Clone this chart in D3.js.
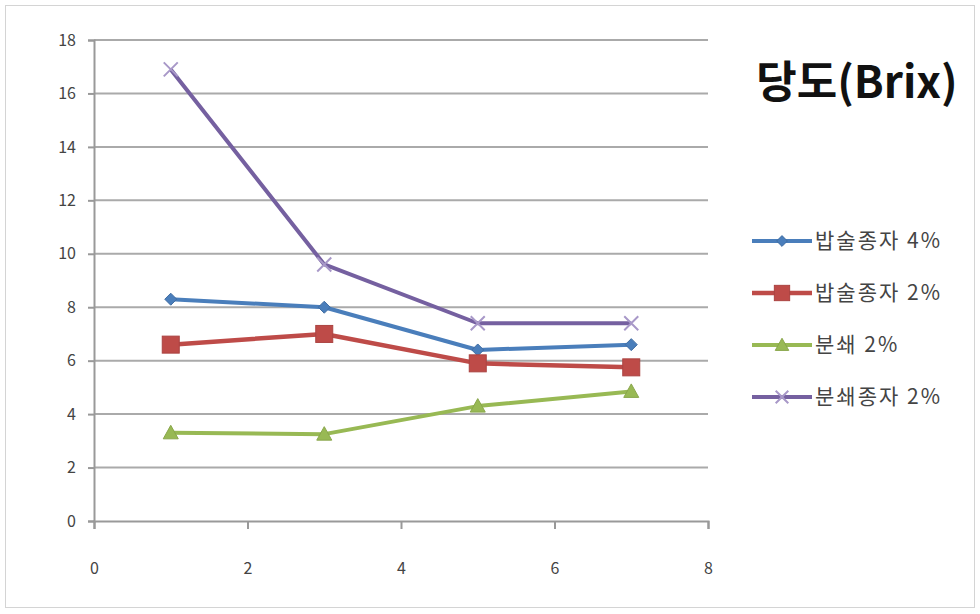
<!DOCTYPE html>
<html>
<head>
<meta charset="utf-8">
<script src="https://cdn.jsdelivr.net/npm/d3@7"></script>
<style>
  html, body { margin: 0; padding: 0; background: #fff; }
  svg { display: block; }
</style>
</head>
<body>
<svg id="chart" width="980" height="614"></svg>
<script>
// Sampling days and Brix readings for each treatment
const days = [1, 3, 5, 7];
const seriesNames = ["밥술종자 4%", "밥술종자 2%", "분쇄 2%", "분쇄종자 2%"];
const brixRice4 = [8.3, 8.0, 6.4, 6.6];
const brixRice2 = [6.6, 7.0, 5.9, 5.75];
const brixGround2 = [3.3, 3.25, 4.3, 4.85];
const brixGroundSeed2 = [16.9, 9.6, 7.4, 7.4];
const xTicks = [0, 2, 4, 6, 8];
const yTicks = [0, 2, 4, 6, 8, 10, 12, 14, 16, 18];
const chartTitle = "당도(Brix)";

const series = [
  { name: seriesNames[0], values: brixRice4, color: "#4a7ebb", marker: "diamond", width: 4 },
  { name: seriesNames[1], values: brixRice2, color: "#be4b48", marker: "square", width: 4.5 },
  { name: seriesNames[2], values: brixGround2, color: "#98b954", marker: "triangle", width: 4 },
  { name: seriesNames[3], values: brixGroundSeed2, color: "#7560a0", marker: "x", width: 4 }
];

const svg = d3.select("#chart");
const font = "'Noto Sans CJK KR', 'Noto Sans', sans-serif";

// outer frame
svg.append("rect")
  .attr("x", 5.5).attr("y", 5.5).attr("width", 969).attr("height", 602)
  .attr("fill", "#fff").attr("stroke", "#d4d4d4").attr("stroke-width", 1);

const x = d3.scaleLinear().domain([0, 8]).range([94, 708]);
const y = d3.scaleLinear().domain([0, 18]).range([521, 40]);

// horizontal gridlines
svg.append("g")
  .selectAll("line")
  .data(yTicks.filter(t => t > 0))
  .join("line")
  .attr("x1", x(0)).attr("x2", x(8))
  .attr("y1", d => y(d)).attr("y2", d => y(d))
  .attr("stroke", "#aaaaaa").attr("stroke-width", 2);

// axes
const yAxis = svg.append("g")
  .attr("transform", `translate(${x(0)},0)`)
  .call(d3.axisLeft(y).tickValues(yTicks).tickSize(6).tickPadding(12).tickFormat(d3.format("d")));
const xAxis = svg.append("g")
  .attr("transform", `translate(0,${y(0)})`)
  .call(d3.axisBottom(x).tickValues(xTicks).tickSize(8).tickPadding(34).tickFormat(d3.format("d")));

[yAxis, xAxis].forEach(g => {
  g.select(".domain").attr("stroke", "#999").attr("stroke-width", 2);
  g.selectAll(".tick line").attr("stroke", "#999").attr("stroke-width", 2);
  g.selectAll(".tick text")
    .attr("fill", "#444")
    .style("font-family", font)
    .style("font-size", "16px");
});

// marker shapes
function drawMarker(g, type, color, cx, cy, scale) {
  const s = scale || 1;
  if (type === "diamond") {
    g.append("path")
      .attr("d", `M${cx},${cy - 6 * s}L${cx + 6 * s},${cy}L${cx},${cy + 6 * s}L${cx - 6 * s},${cy}Z`)
      .attr("fill", color).attr("stroke", d3.color(color).darker(0.4)).attr("stroke-width", 1);
  } else if (type === "square") {
    const h = 8.5 * s;
    g.append("rect")
      .attr("x", cx - h).attr("y", cy - h).attr("width", 2 * h).attr("height", 2 * h)
      .attr("fill", color).attr("stroke", d3.color(color).darker(0.3)).attr("stroke-width", 1);
  } else if (type === "triangle") {
    const h = 7.5 * s;
    g.append("path")
      .attr("d", `M${cx},${cy - h}L${cx + h},${cy + h * 0.8}L${cx - h},${cy + h * 0.8}Z`)
      .attr("fill", color).attr("stroke", d3.color(color).darker(0.3)).attr("stroke-width", 1);
  } else if (type === "x") {
    const h = 7 * s;
    g.append("path")
      .attr("d", `M${cx - h},${cy - h}L${cx + h},${cy + h}M${cx - h},${cy + h}L${cx + h},${cy - h}`)
      .attr("stroke", "#a898c8").attr("stroke-width", 2).attr("fill", "none");
  }
}

const line = d3.line()
  .x((d, i) => x(days[i]))
  .y(d => y(d));

// series lines and markers
series.forEach(s => {
  const g = svg.append("g");
  g.append("path")
    .attr("d", line(s.values))
    .attr("fill", "none")
    .attr("stroke", s.color)
    .attr("stroke-width", s.width)
    .attr("stroke-linejoin", "round");
  s.values.forEach((v, i) => drawMarker(g, s.marker, s.color, x(days[i]), y(v)));
});

// title
svg.append("text")
  .attr("x", 857).attr("y", 98)
  .attr("text-anchor", "middle")
  .attr("fill", "#111")
  .style("font-family", font)
  .style("font-weight", "bold")
  .style("font-size", "44px")
  .text(chartTitle);

// legend
const legend = svg.append("g");
series.forEach((s, i) => {
  const ly = 241 + i * 52;
  const row = legend.append("g");
  row.append("line")
    .attr("x1", 752).attr("x2", 812)
    .attr("y1", ly).attr("y2", ly)
    .attr("stroke", s.color).attr("stroke-width", s.width);
  drawMarker(row, s.marker, s.color, 782, ly, 0.9);
  row.append("text")
    .attr("x", 815).attr("y", ly)
    .attr("dy", "0.35em")
    .attr("fill", "#444")
    .style("font-family", font)
    .style("font-size", "21px")
    .style("letter-spacing", "2px")
    .text(s.name);
});
</script>
</body>
</html>
